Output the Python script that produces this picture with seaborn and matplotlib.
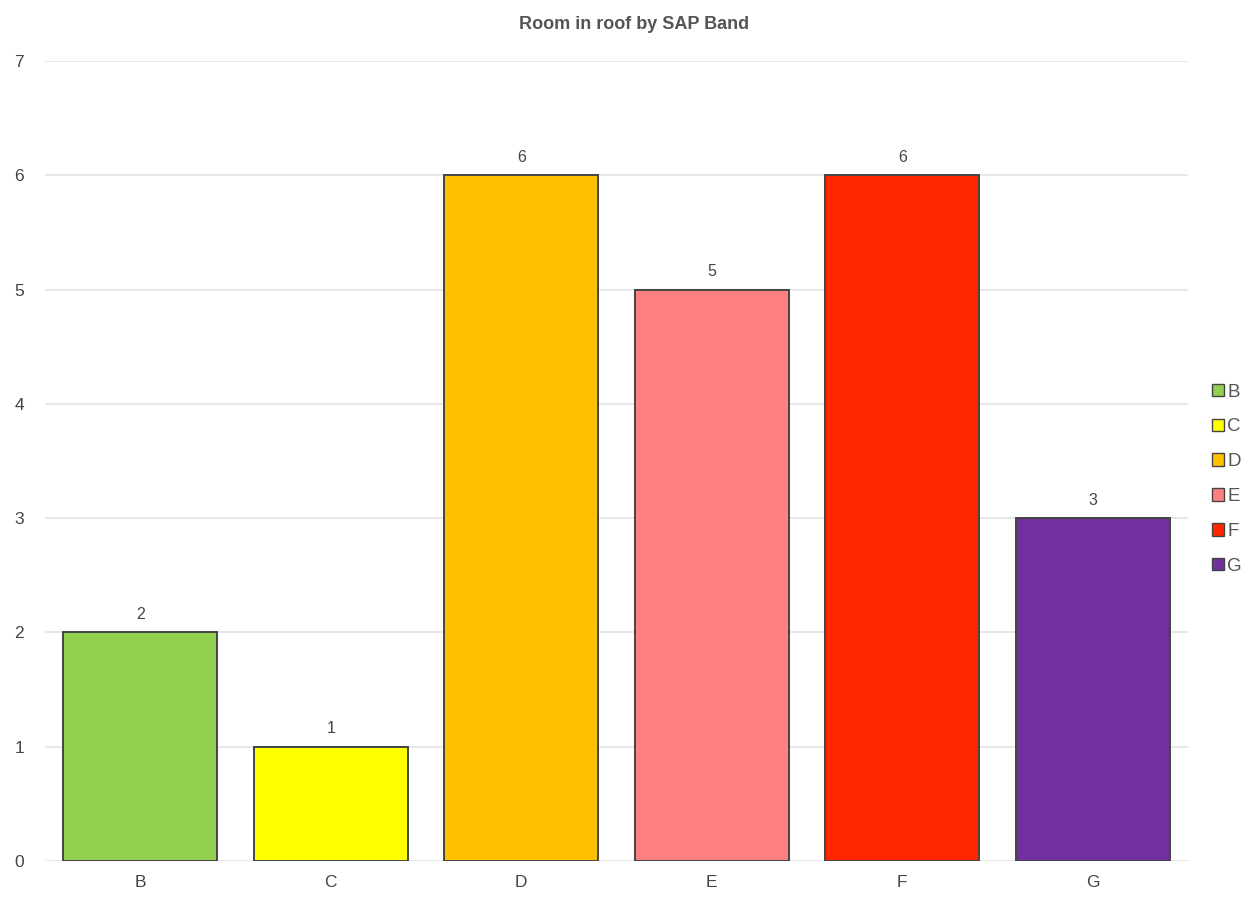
import matplotlib
matplotlib.use("Agg")
import matplotlib.pyplot as plt
import seaborn as sns
import pandas as pd
from matplotlib.patches import Patch

bands = ["B", "C", "D", "E", "F", "G"]
counts = [2, 1, 6, 5, 6, 3]
colors = ["#92D050", "#FFFF00", "#FFC000", "#FF8080", "#FF2600", "#7030A0"]

sns.set_theme(style="white")
plt.rcParams["font.family"] = ["Liberation Sans", "DejaVu Sans"]

df = pd.DataFrame({"band": bands, "count": counts})

fig = plt.figure(figsize=(12.51, 8.99), dpi=100)
ax = fig.add_axes([0.036, 0.0423, 0.9137, 0.8897])

sns.barplot(data=df, x="band", y="count", hue="band", palette=colors,
            order=bands, hue_order=bands, dodge=False, legend=False,
            width=0.81, edgecolor="#444444", linewidth=1.4, saturation=1,
            ax=ax, zorder=3)

ax.set_ylim(0, 7)
ax.set_xlim(-0.5, len(bands) - 0.5)
ax.set_yticks(range(0, 8))
ax.yaxis.grid(True, color="#e3e3e3", linewidth=1.2, zorder=0)
ax.set_axisbelow(True)
for s in ax.spines.values():
    s.set_visible(False)
ax.tick_params(axis="both", length=0, labelsize=12.5, labelcolor="#444444")
ax.tick_params(axis="y", pad=15)
ax.tick_params(axis="x", pad=10)
ax.set_xlabel("")
ax.set_ylabel("")

for i, v in enumerate(counts):
    ax.text(i, v + 0.09, str(v), ha="center", va="bottom",
            fontsize=11.5, color="#444444")

fig.suptitle("Room in roof by SAP Band", x=0.507, y=0.982,
             fontsize=13, fontweight="bold", color="#555555")

handles = [Patch(facecolor=c, edgecolor="#444444", linewidth=1) for c in colors]
fig.legend(handles, bands, loc="center left", bbox_to_anchor=(0.969, 0.467),
           frameon=False, fontsize=13.5, handlelength=0.65, handleheight=0.65,
           handletextpad=0.15, labelspacing=0.95, labelcolor="#555555",
           borderaxespad=0, borderpad=0)

fig.savefig("out.png", dpi=100)
